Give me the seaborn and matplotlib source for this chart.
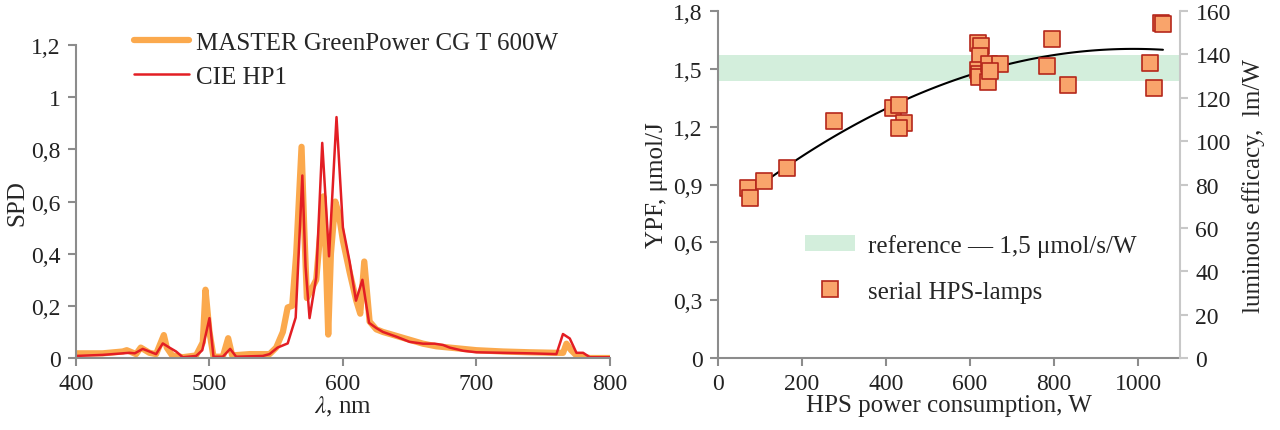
import numpy as np
import pandas as pd
import seaborn as sns
import matplotlib.pyplot as plt
from matplotlib.ticker import MultipleLocator, FuncFormatter
from matplotlib.patches import Patch
from matplotlib.lines import Line2D

# Spektrum MASTER GreenPower CG T 600W
master_nm = [400, 420, 435, 438, 445, 448.5, 455, 460, 465.8, 468, 472, 480, 490, 495, 497,
             500, 503, 510, 514, 517, 530, 545, 550, 555, 558.6, 562, 565, 569, 571, 573,
             577, 580, 585.4, 586.5, 589, 591, 594.3, 597, 600, 605, 610, 613, 616, 620,
             625, 630, 640, 650, 660, 670, 680, 690, 700, 720, 740, 760, 765, 767.5, 771,
             775, 780, 785, 800]
master_spd = [0.018, 0.018, 0.025, 0.03, 0.015, 0.04, 0.02, 0.015, 0.088, 0.04, 0.01, 0.003,
              0.01, 0.06, 0.262, 0.1, 0.005, 0.005, 0.076, 0.01, 0.015, 0.015, 0.04, 0.1,
              0.194, 0.2, 0.4, 0.81, 0.5, 0.23, 0.27, 0.3, 0.62, 0.5, 0.09, 0.4, 0.6, 0.55,
              0.45, 0.33, 0.22, 0.17, 0.37, 0.14, 0.11, 0.1, 0.085, 0.07, 0.055, 0.045, 0.04,
              0.035, 0.03, 0.025, 0.022, 0.02, 0.02, 0.055, 0.03, 0.01, 0.005, 0.0, 0.0]

# Spektrum CIE HP1
cie_nm = [400, 420, 440, 444, 450, 455, 460, 465, 470, 475, 480, 490, 494.6, 500, 503, 510,
          515.5, 520, 540, 545, 551, 558.6, 564.6, 569.6, 572, 575, 580, 584.5, 589.6, 595.2,
          600, 605, 609.8, 614.6, 619.6, 625, 630, 640, 650, 660, 668.8, 675, 680, 690, 700,
          720, 740, 760, 764.9, 770, 775, 780, 785, 800]
cie_spd = [0.008, 0.012, 0.02, 0.018, 0.035, 0.025, 0.015, 0.056, 0.04, 0.025, 0.003, 0.008,
           0.03, 0.153, 0.005, 0.005, 0.035, 0.005, 0.008, 0.015, 0.04, 0.056, 0.155, 0.70,
           0.35, 0.153, 0.31, 0.825, 0.39, 0.924, 0.50, 0.37, 0.22, 0.30, 0.135, 0.115, 0.10,
           0.082, 0.062, 0.055, 0.055, 0.05, 0.04, 0.028, 0.022, 0.02, 0.018, 0.015, 0.092,
           0.075, 0.02, 0.02, 0.003, 0.003]

# Lampy HPS: moc (W) i YPF (umol/J)
hps_power = [72, 77, 110, 165, 275, 416, 430, 443, 430, 619, 625, 624, 618, 620, 621, 644,
             670, 642, 648, 796, 782, 833, 1028, 1038, 1055, 1059]
hps_ypf = [0.883, 0.831, 0.917, 0.987, 1.229, 1.298, 1.315, 1.220, 1.194, 1.636, 1.62, 1.566,
           1.495, 1.475, 1.46, 1.525, 1.525, 1.43, 1.49, 1.656, 1.514, 1.419, 1.532, 1.402,
           1.739, 1.731]

ref_low, ref_high = 1.435, 1.57

ORANGE = '#FBA94D'
RED = '#E31E24'
GREY = '#8C8C8C'
GREEN = '#D3EEDC'
SQ_FACE = '#F9A46B'
SQ_EDGE = '#B5271B'
FS_TICK = 17
FS_TEXT = 18

sns.set_theme(style='white')
plt.rcParams['font.family'] = ['Liberation Serif', 'DejaVu Serif']
plt.rcParams['mathtext.fontset'] = 'stix'


def comma(v, pos):
    return f'{round(v, 1):g}'.replace('.', ',')


def style_axis(ax):
    for side in ['left', 'bottom']:
        ax.spines[side].set_color(GREY)
        ax.spines[side].set_linewidth(1.5)
    for side in ['top', 'right']:
        ax.spines[side].set_visible(False)
    ax.tick_params(direction='out', length=6, width=1.5, color=GREY,
                   labelsize=FS_TICK, labelcolor='#222222', left=True, bottom=True, pad=5)


fig = plt.figure(figsize=(12.8, 4.31), dpi=100)

# ---- lewy wykres: widmo
ax1 = fig.add_axes([0.0594, 0.167, 0.417, 0.726])
sns.lineplot(x=master_nm, y=master_spd, ax=ax1, color=ORANGE, linewidth=4.5,
             label='MASTER GreenPower CG T 600W')
sns.lineplot(x=cie_nm, y=cie_spd, ax=ax1, color=RED, linewidth=1.8, label='CIE HP1')
ax1.set_xlim(400, 800)
ax1.set_ylim(0, 1.2)
ax1.xaxis.set_major_locator(MultipleLocator(100))
ax1.yaxis.set_major_locator(MultipleLocator(0.2))
ax1.yaxis.set_major_formatter(FuncFormatter(comma))
style_axis(ax1)
ax1.set_xlabel(r'$\lambda$, nm', fontsize=FS_TEXT, labelpad=0)
ax1.set_ylabel('SPD', fontsize=FS_TEXT, labelpad=2)
ax1.legend(loc='upper left', bbox_to_anchor=(0.067, 1.115), frameon=False, fontsize=FS_TEXT,
           handlelength=2.2, labelspacing=0.45, handletextpad=0.25)

# ---- prawy wykres: YPF vs moc
ax2 = fig.add_axes([0.561, 0.167, 0.361, 0.805])
ax2.axhspan(ref_low, ref_high, color=GREEN, zorder=0, lw=0)
sns.regplot(x=hps_power, y=hps_ypf, ax=ax2, order=2, ci=None, scatter=False,
            line_kws={'color': 'black', 'linewidth': 1.5, 'zorder': 2})
sns.scatterplot(x=hps_power, y=hps_ypf, ax=ax2, marker='s', s=120, color=SQ_FACE,
                edgecolor=SQ_EDGE, linewidth=1.2, zorder=3)
ax2.set_xlim(0, 1100)
ax2.set_ylim(0, 1.8)
ax2.xaxis.set_major_locator(MultipleLocator(200))
ax2.yaxis.set_major_locator(MultipleLocator(0.3))
ax2.yaxis.set_major_formatter(FuncFormatter(comma))
style_axis(ax2)
ax2.set_xlabel('HPS power consumption, W', fontsize=FS_TEXT, labelpad=0)
ax2.set_ylabel('YPF, μmol/J', fontsize=FS_TEXT, labelpad=4)

ax3 = ax2.twinx()
ax3.set_ylim(0, 160)
ax3.yaxis.set_major_locator(MultipleLocator(20))
for side in ['left', 'top', 'bottom']:
    ax3.spines[side].set_visible(False)
ax3.spines['right'].set_color('#C8C8C8')
ax3.spines['right'].set_linewidth(1.5)
ax3.tick_params(axis='y', direction='out', length=6, width=1.5, color='#C8C8C8',
                labelsize=FS_TICK, labelcolor='#222222', right=True, pad=5)
ax3.set_ylabel('luminous efficacy,  lm/W', fontsize=FS_TEXT, labelpad=8)
ax3.grid(False)

handles = [Patch(facecolor=GREEN, edgecolor='none'),
           Line2D([], [], marker='s', linestyle='none', markersize=11,
                  markerfacecolor=SQ_FACE, markeredgecolor=SQ_EDGE, markeredgewidth=1.2)]
ax2.legend(handles, ['reference — 1,5 μmol/s/W', 'serial HPS-lamps'],
           loc='upper left', bbox_to_anchor=(0.14, 0.422), frameon=False, fontsize=FS_TEXT,
           handlelength=2.0, handleheight=0.6, labelspacing=0.95, handletextpad=0.5)

fig.savefig('out.png', dpi=100)
